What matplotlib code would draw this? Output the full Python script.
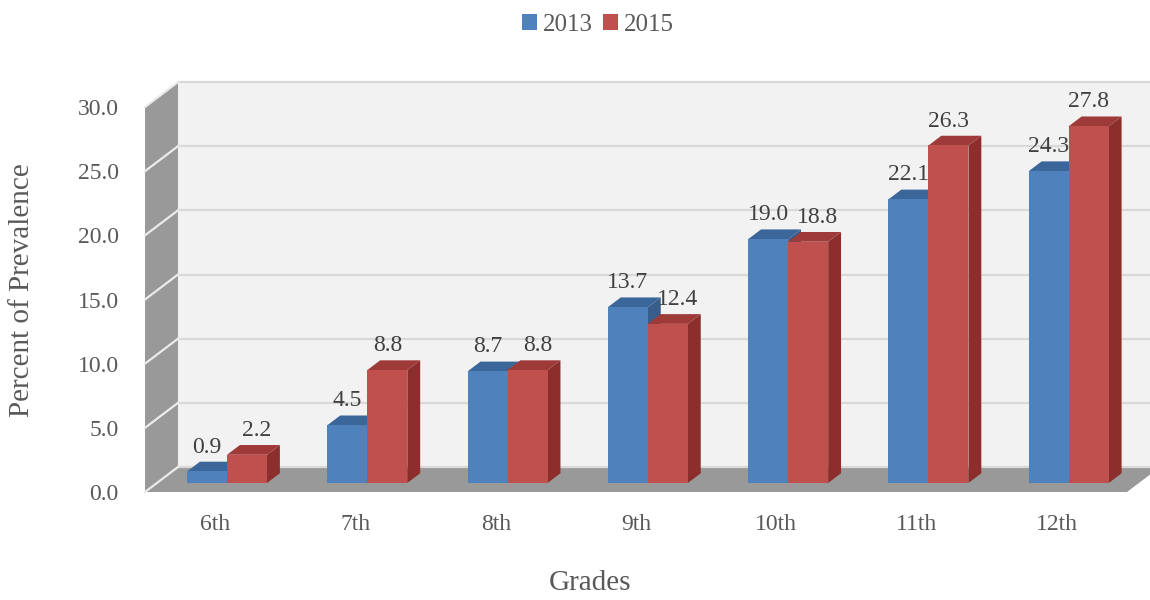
import matplotlib.pyplot as plt
from matplotlib.patches import Polygon, Patch

# ---- data ----
grades = ["6th", "7th", "8th", "9th", "10th", "11th", "12th"]
vals_2013 = [0.9, 4.5, 8.7, 13.7, 19.0, 22.1, 24.3]
vals_2015 = [2.2, 8.8, 8.8, 12.4, 18.8, 26.3, 27.8]
series_names = ["2013", "2015"]
yticks = [0, 5, 10, 15, 20, 25, 30]

# colours (front, top, side)
blue = ("#4F81BD", "#3B669A", "#385D8A")
red = ("#C0504D", "#9E3A37", "#8C2F2C")

plt.rcParams['font.family'] = ['Liberation Serif', 'DejaVu Serif']

fig = plt.figure(figsize=(11.5, 6), dpi=100)
W, H = 1150, 600
# front plane of the plot in pixels
x_left, x_right, y_bot, y_top = 145, 1127, 492, 107
ax = fig.add_axes([x_left / W, 1 - y_bot / H, (x_right - x_left) / W, (y_bot - y_top) / H])
xmin, xmax, ymax = -0.5, 6.5, 30
ax.set_xlim(xmin, xmax)
ax.set_ylim(0, ymax)
for s in ax.spines.values():
    s.set_visible(False)
ax.patch.set_visible(False)

# depth offset of the 3d box, in data units
px_x = (x_right - x_left) / (xmax - xmin)
px_y = (y_bot - y_top) / ymax
dx = 33 / px_x
dy = 25 / px_y


def poly(pts, color, z, lw=0):
    ax.add_patch(Polygon(pts, closed=True, facecolor=color, edgecolor=color,
                         linewidth=lw, zorder=z, clip_on=False))


# walls and floor
poly([(xmin + dx, dy), (xmax + dx, dy), (xmax + dx, ymax + dy), (xmin + dx, ymax + dy)], "#F2F2F2", 1)
poly([(xmin, 0), (xmin + dx, dy), (xmin + dx, ymax + dy), (xmin, ymax)], "#999999", 1)
poly([(xmin, 0), (xmax, 0), (xmax + dx, dy), (xmin + dx, dy)], "#999999", 1)

# gridlines on back and side walls
for v in yticks:
    ax.plot([xmin + dx, xmax + dx], [v + dy, v + dy], color="#D9D9D9", lw=1.6, zorder=2, clip_on=False)
    ax.plot([xmin, xmin + dx], [v, v + dy], color="#EBEBEB", lw=1.6, zorder=2, clip_on=False)

# bars
w = 40 / px_x
f0, f1 = 0.36, 0.75
ox0, oy0, ox1, oy1 = f0 * dx, f0 * dy, f1 * dx, f1 * dy


def bar3d(x0, h, cols, z, shift=0):
    front, top, side = cols
    poly([(x0 + w + ox0, oy0), (x0 + w + ox1, oy1), (x0 + w + ox1, h + oy1), (x0 + w + ox0, h + oy0)], side, z)
    poly([(x0 + ox0, h + oy0), (x0 + w + ox0, h + oy0), (x0 + w + ox1, h + oy1), (x0 + ox1, h + oy1)], top, z)
    poly([(x0 + ox0, oy0), (x0 + w + ox0, oy0), (x0 + w + ox0, h + oy0), (x0 + ox0, h + oy0)], front, z)
    ax.annotate(f"{h:.1f}", (x0 + ox0 + w / 2, h + oy0), xytext=(shift, 10), textcoords="offset points",
                ha="center", va="bottom", fontsize=17, color="#404040", zorder=10)


for i in range(len(grades)):
    # labels that would collide get nudged apart
    close = abs(vals_2013[i] - vals_2015[i]) < 2
    bar3d(i - w, vals_2013[i], blue, 3 + 2 * i)
    bar3d(i, vals_2015[i], red, 4 + 2 * i, shift=7 if close else 0)

# ticks
ax.set_yticks(yticks)
ax.set_yticklabels([f"{v:.1f}" for v in yticks])
ax.set_xticks(range(len(grades)))
ax.set_xticklabels(grades)
ax.tick_params(axis="y", length=0, pad=19, labelsize=17, labelcolor="#595959")
ax.tick_params(axis="x", length=0, pad=16, labelsize=17, labelcolor="#595959")

fig.text(22 / W, 1 - 290 / H, "Percent of Prevalence", rotation=90, ha="center", va="center",
         fontsize=21, color="#595959")
fig.text(590 / W, 1 - 583 / H, "Grades", ha="center", va="center", fontsize=21, color="#595959")

handles = [Patch(facecolor=blue[0]), Patch(facecolor=red[0])]
fig.legend(handles, series_names, loc="upper center", bbox_to_anchor=(0.52, 1.015), ncol=2, frameon=False,
           fontsize=18, handlelength=0.6, handleheight=0.6, handletextpad=0.25, columnspacing=0.4,
           labelcolor="#595959")

fig.savefig("out.png", dpi=100)
